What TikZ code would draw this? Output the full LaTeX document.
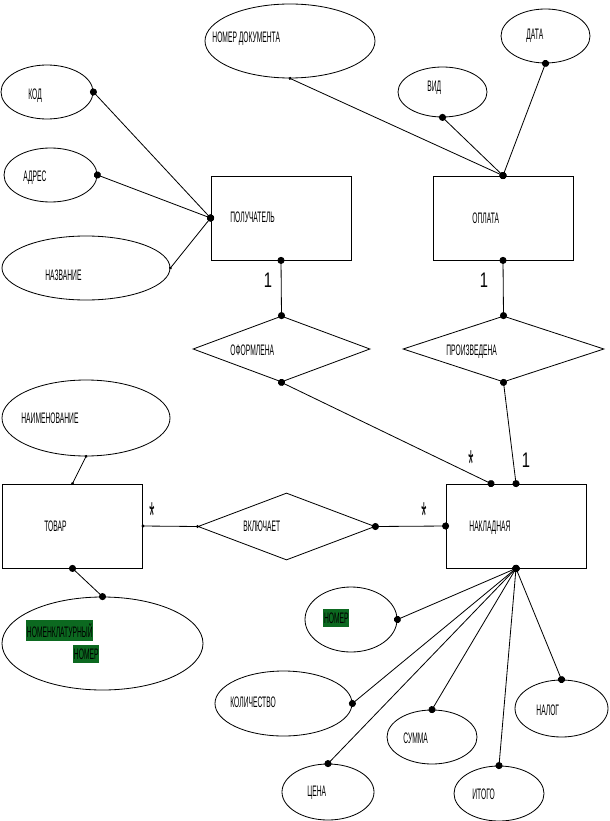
\documentclass[tikz,border=0pt]{standalone}
\usepackage{fontspec}
\setmainfont{Liberation Sans}[FakeStretch=0.44]
\newfontfamily\numfont{Liberation Sans}[FakeStretch=0.7]
\newfontfamily\starfont{Liberation Sans}[FakeStretch=0.35]
\usetikzlibrary{shapes.geometric,arrows.meta}
\definecolor{hlgreen}{RGB}{12,105,32}

\begin{document}
\begin{tikzpicture}[x=0.03cm,y=-0.03cm,line width=0.7pt]
	\tikzstyle{entnode}=[draw, shape=rectangle, minimum width=4.2cm, minimum height=2.52cm, inner sep=0pt];
	\tikzstyle{atnode}=[draw, shape=ellipse, inner sep=0pt];
	\tikzstyle{relnode}=[draw, shape=diamond, inner sep=0pt, minimum height=1.98cm];
	\tikzstyle{tnode}=[anchor=base west, inner sep=0pt, font=\fontsize{13}{13}\selectfont];
	\tikzstyle{gnode}=[tnode, fill=hlgreen, inner xsep=0.5pt, inner ysep=3pt];
	\tikzstyle{cnode}=[anchor=base, inner sep=0pt, font=\numfont\fontsize{18}{18}\selectfont];
	\tikzstyle{mnode}=[anchor=north, inner sep=0pt, font=\starfont\fontsize{32}{32}\selectfont];
	\tikzstyle{bb}=[{Circle[length=6pt]}-{Circle[length=6pt]}, shorten <=-3pt, shorten >=-3pt];
	\tikzstyle{sb}=[{Circle[length=2.5pt]}-{Circle[length=6pt]}, shorten <=-1.25pt, shorten >=-3pt];
	\tikzstyle{ss}=[{Circle[length=2.5pt]}-{Circle[length=2.5pt]}, shorten <=-1.25pt, shorten >=-1.25pt];

	\useasboundingbox (0,0) rectangle (609,821);

	% entities
	\node[entnode] (pol) at (281,218) {};
	\node[entnode] (opl) at (503,218) {};
	\node[entnode] (tov) at (72.5,526) {};
	\node[entnode] (nak) at (516,526) {};

	% relations
	\node[relnode, minimum width=5.31cm] (ofo) at (281.5,349) {};
	\node[relnode, minimum width=6.03cm] (pro) at (503.5,349) {};
	\node[relnode, minimum width=5.31cm, minimum height=2.01cm] (vkl) at (286.5,526.5) {};

	% attributes
	\node[atnode, minimum width=2.76cm, minimum height=1.62cm] (kod) at (47,92) {};
	\node[atnode, minimum width=2.79cm, minimum height=1.62cm] (adr) at (50.5,175) {};
	\node[atnode, minimum width=5.04cm, minimum height=1.92cm] (naz) at (86,268) {};
	\node[atnode, minimum width=5.1cm, minimum height=2.22cm] (nomdoc) at (290,41) {};
	\node[atnode, minimum width=2.67cm, minimum height=1.5cm] (vid) at (442.5,92) {};
	\node[atnode, minimum width=2.67cm, minimum height=1.62cm] (data) at (545.5,36) {};
	\node[atnode, minimum width=5.04cm, minimum height=2.28cm] (nai) at (86,418) {};
	\node[atnode, minimum width=6.03cm, minimum height=2.79cm] (nomen) at (102.5,643.5) {};
	\node[atnode, minimum width=2.76cm, minimum height=1.95cm] (nomer) at (351,619.5) {};
	\node[atnode, minimum width=4.11cm, minimum height=1.95cm] (kol) at (283.5,703.5) {};
	\node[atnode, minimum width=2.76cm, minimum height=1.68cm] (cena) at (328,792) {};
	\node[atnode, minimum width=2.7cm, minimum height=1.62cm] (summa) at (432,737) {};
	\node[atnode, minimum width=2.7cm, minimum height=1.65cm] (itogo) at (499,793.5) {};
	\node[atnode, minimum width=2.79cm, minimum height=1.71cm] (nalog) at (561.5,708.5) {};

	% texts
	\node[tnode] (tkod) at (28,100) {КОД};
	\node[tnode] (tadr) at (23,182) {АДРЕС};
	\node[tnode] (tnaz) at (45,280) {НАЗВАНИЕ};
	\node[tnode] (tpol) at (230,222) {ПОЛУЧАТЕЛЬ};
	\node[tnode] (tnomdoc) at (212,43) {НОМЕР ДОКУМЕНТА};
	\node[tnode] (tvid) at (427,92) {ВИД};
	\node[tnode] (tdata) at (526,40) {ДАТА};
	\node[tnode] (topl) at (472,223) {ОПЛАТА};
	\node[tnode] (tofo) at (230,355) {ОФОРМЛЕНА};
	\node[tnode] (tpro) at (446,355) {ПРОИЗВЕДЕНА};
	\node[tnode] (tnai) at (21,423) {НАИМЕНОВАНИЕ};
	\node[tnode] (ttov) at (44,531) {ТОВАР};
	\node[tnode] (tvkl) at (243,531) {ВКЛЮЧАЕТ};
	\node[tnode] (tnak) at (469,531) {НАКЛАДНАЯ};
	\node[gnode] (tnomen) at (26,637) {НОМЕНКЛАТУРНЫЙ};
	\node[gnode] (tnomen2) at (73,659) {НОМЕР};
	\node[gnode] (tnomer) at (323,623) {НОМЕР};
	\node[tnode] (tkol) at (230,707) {КОЛИЧЕСТВО};
	\node[tnode] (tcena) at (307,796) {ЦЕНА};
	\node[tnode] (tsumma) at (403,743) {СУММА};
	\node[tnode] (titogo) at (472,799) {ИТОГО};
	\node[tnode] (tnalog) at (536,715) {НАЛОГ};

	% cardinalities
	\node[cnode] (c1) at (268,287) {1};
	\node[cnode] (c2) at (484,287) {1};
	\node[cnode] (c3) at (526,467) {1};
	\node[mnode] (m1) at (471,450) {*};
	\node[mnode] (m2) at (152,502) {*};
	\node[mnode] (m3) at (424,502) {*};

	% links
	\draw[bb] (kod.east) -- (pol.west);
	\draw[bb] (adr.east) -- (pol.west);
	\draw[sb] (naz.east) -- (pol.west);
	\draw[sb] (nomdoc.south) -- (opl.north);
	\draw[bb] (vid.south) -- (opl.north);
	\draw[bb] (data.south) -- (opl.north);
	\draw[bb] (pol.south) -- (ofo.north);
	\draw[bb] (opl.south) -- (pro.north);
	\draw[bb] (ofo.south) -- ([xshift=-0.75cm]nak.north);
	\draw[bb] (pro.south) -- (nak.north);
	\draw[ss] (nai.south) -- (tov.north);
	\draw[bb] (tov.south) -- (nomen.north);
	\draw[ss] (tov.east) -- (vkl.west);
	\draw[bb] (vkl.east) -- (nak.west);
	\draw[bb] (nak.south) -- (nomer.east);
	\draw[bb] (nak.south) -- (kol.east);
	\draw[bb] (nak.south) -- (cena.north);
	\draw[bb] (nak.south) -- (summa.north);
	\draw[bb] (nak.south) -- (itogo.north);
	\draw[bb] (nak.south) -- (nalog.north);

\end{tikzpicture}
\end{document}
